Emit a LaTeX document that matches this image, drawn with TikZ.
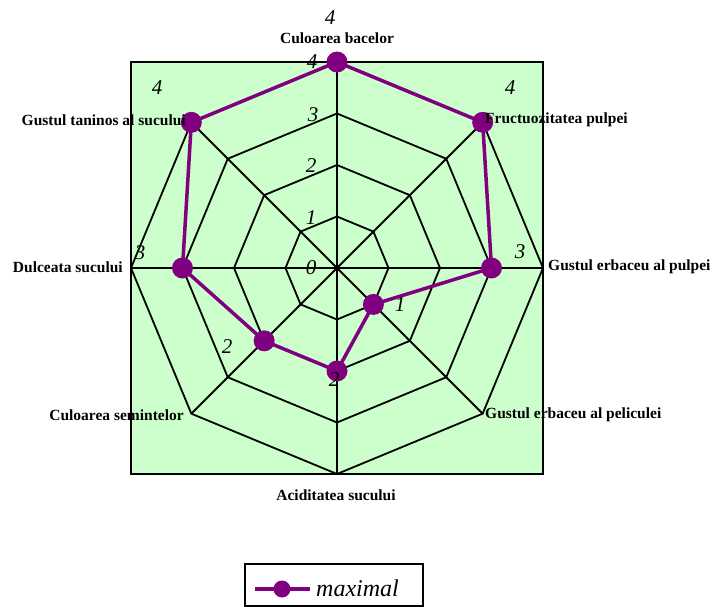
\documentclass[tikz,border=0pt]{standalone}
\usepackage{fontspec}
\setmainfont{Liberation Serif}
\usetikzlibrary{positioning}
\definecolor{fundo}{HTML}{CCFFCC}
\definecolor{roxo}{HTML}{800080}

\begin{document}
\begin{tikzpicture}[x=1pt, y=-1pt,
  grade/.style={line width=1.8pt, line join=miter},
  serie/.style={roxo, line width=3.5pt},
  ponto/.style={circle, fill=roxo, minimum size=21pt, inner sep=0pt},
  cat/.style={font=\bfseries\fontsize{15.5}{18}\selectfont, inner sep=0pt},
  val/.style={font=\itshape\fontsize{21}{24}\selectfont, inner sep=0pt}]
\useasboundingbox (0,0) rectangle (715,607);

% Area do grafico
\fill[fundo] (131,62) rectangle (543,474);
\draw[grade] (131,62) rectangle (543,474);

\begin{scope}[shift={(337,268)}]
% Aneis e eixos
\foreach \r in {1,...,4}
  \draw[grade] (0:{\r*51.5}) \foreach \a in {45,90,...,315} { -- (\a:{\r*51.5}) } -- cycle;
\foreach \a in {0,45,...,315}
  \draw[grade] (0,0) -- (\a:206);

% Valores
\coordinate (bacelor) at (-90:206);
\coordinate (fructe) at (-45:206);
\coordinate (pulpa) at (0:154.5);
\coordinate (pelicula) at (45:51.5);
\coordinate (aciditate) at (90:103);
\coordinate (seminte) at (135:103);
\coordinate (dulceata) at (180:154.5);
\coordinate (taninos) at (225:206);
\end{scope}

% Serie
\draw[serie] (bacelor) -- (fructe) -- (pulpa) -- (pelicula) -- (aciditate)
  -- (seminte) -- (dulceata) -- (taninos) -- cycle;
\foreach \p in {bacelor,fructe,pulpa,pelicula,aciditate,seminte,dulceata,taninos}
  \node[ponto] (m-\p) at (\p) {};

% Escala
\node[val] (s0) at (311,268) {0};
\node[val] (s1) at (311,218) {1};
\node[val] (s2) at (311,166) {2};
\node[val] (s3) at (313,115) {3};
\node[val] (s4) at (312,62) {4};

% Rotulos dos valores
\node[val] (v1) at (330,18) {4};
\node[val] (v2) at (510,88) {4};
\node[val] (v3) at (520,252) {3};
\node[val] (v4) at (400,305) {1};
\node[val] (v5) at (334,380) {2};
\node[val] (v6) at (227,347) {2};
\node[val] (v7) at (140,253) {3};
\node[val] (v8) at (157,88) {4};

% Categorias
\node[cat] (c1) at (337,38) {Culoarea bacelor};
\node[cat, anchor=west] (c2) at (485,120) {Fructuozitatea pulpei};
\node[cat, anchor=west] (c3) at (548,267) {Gustul erbaceu al pulpei};
\node[cat, anchor=west] (c4) at (485,415) {Gustul erbaceu al peliculei};
\node[cat] (c5) at (336,495) {Aciditatea sucului};
\node[cat, anchor=east] (c6) at (184,415) {Culoarea semintelor};
\node[cat, anchor=east] (c7) at (123,267) {Dulceata sucului};
\node[cat, anchor=east] (c8) at (186,120) {Gustul taninos al sucului};

% Legenda
\node[draw, line width=1.4pt, minimum width=178pt, minimum height=42pt, inner sep=0pt] (legenda) at (334,585) {};
\coordinate (la) at (255,589);
\coordinate (lb) at (310,589);
\draw[serie] (la) -- (lb);
\node[ponto, minimum size=17pt] (lm) at (282,589) {};
\node[font=\itshape\fontsize{24}{28}\selectfont, anchor=west, inner sep=0pt] (lt) at (316,588) {maximal};
\end{tikzpicture}
\end{document}
